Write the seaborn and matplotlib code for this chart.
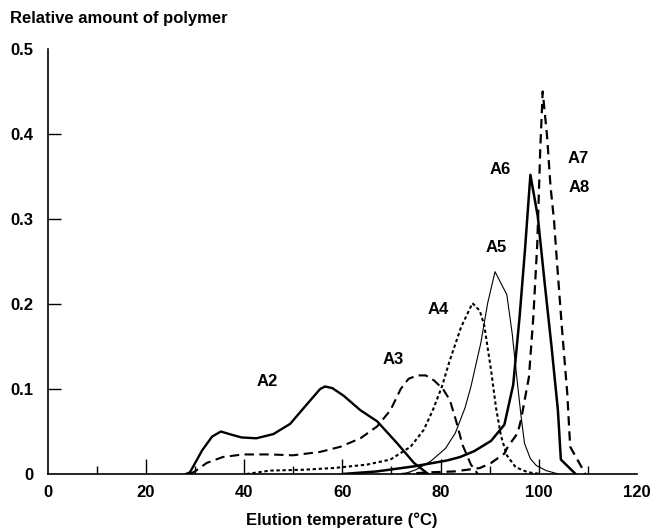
import matplotlib
matplotlib.use("Agg")
import matplotlib.pyplot as plt
import seaborn as sns
import pandas as pd

# Elution profiles (temperature in °C, relative amount of polymer)
a2_t = [28.2, 29.0, 31.5, 33.5, 35.3, 37.0, 39.5, 42.5, 46.0, 49.4, 52.8, 55.5, 56.5, 58.0,
        60.3, 63.7, 67.1, 71.2, 74.6, 77.5]
a2_y = [0.0, 0.002, 0.028, 0.044, 0.050, 0.047, 0.043, 0.042, 0.047, 0.059, 0.082, 0.100, 0.103,
        0.101, 0.092, 0.075, 0.062, 0.036, 0.013, 0.0]

a3_t = [29.0, 30.0, 32.4, 35.7, 39.8, 45.3, 50.0, 55.5, 59.6, 63.7, 67.1, 69.8, 71.9, 73.5,
        75.3, 77.0, 78.7, 80.5, 81.9, 83.1, 84.5, 86.2, 87.6]
a3_y = [0.0, 0.003, 0.013, 0.020, 0.023, 0.023, 0.022, 0.026, 0.032, 0.042, 0.056, 0.075, 0.100,
        0.112, 0.116, 0.116, 0.110, 0.100, 0.087, 0.064, 0.034, 0.011, 0.0]

a4_t = [40.5, 45.3, 52.0, 58.2, 65.0, 69.8, 73.9, 76.6, 78.5, 80.3, 81.8, 84.2, 86.5, 88.0,
        88.9, 90.3, 91.3, 92.3, 93.5, 95.3, 97.8, 100.5]
a4_y = [0.0, 0.004, 0.005, 0.007, 0.011, 0.017, 0.032, 0.052, 0.076, 0.103, 0.132, 0.173, 0.201,
        0.192, 0.175, 0.122, 0.078, 0.045, 0.022, 0.008, 0.002, 0.0]

a5_t = [72.5, 75.0, 78.0, 81.0, 83.0, 85.0, 86.2, 88.2, 89.6, 91.1, 93.5, 94.6, 95.6, 96.4,
        97.1, 98.3, 99.5, 101.5, 104.0]
a5_y = [0.0, 0.005, 0.015, 0.030, 0.048, 0.078, 0.103, 0.154, 0.201, 0.238, 0.211, 0.165, 0.110,
        0.068, 0.036, 0.018, 0.010, 0.004, 0.0]

a6_t = [60.0, 67.0, 74.6, 81.4, 84.0, 86.9, 90.3, 93.0, 94.8, 96.1, 97.2, 98.3, 99.8, 101.2,
        102.6, 103.9, 104.5, 107.5]
a6_y = [0.0, 0.003, 0.009, 0.016, 0.020, 0.027, 0.039, 0.058, 0.105, 0.185, 0.264, 0.352, 0.303,
        0.225, 0.150, 0.075, 0.017, 0.0]

a7_t = [72.0, 78.0, 82.8, 88.0, 90.3, 93.0, 93.7, 95.7, 96.4, 98.0, 98.9, 99.7, 100.3, 100.8,
        101.7, 102.4, 103.1, 103.7, 104.7, 105.8, 106.4, 109.5]
a7_y = [0.0, 0.002, 0.003, 0.007, 0.013, 0.024, 0.032, 0.048, 0.064, 0.114, 0.185, 0.271, 0.381,
        0.450, 0.397, 0.338, 0.299, 0.250, 0.173, 0.095, 0.032, 0.0]

# Curve labels and their positions (temperature, amount)
label_text = ["A2", "A3", "A4", "A5", "A6", "A7", "A8"]
label_t = [44.7, 70.3, 79.5, 91.4, 92.1, 108.0, 108.2]
label_y = [0.109, 0.135, 0.193, 0.266, 0.358, 0.371, 0.337]

x_ticks = [0, 20, 40, 60, 80, 100, 120]
x_minor = [10, 30, 50, 70, 90, 110]
y_ticks = [0, 0.1, 0.2, 0.3, 0.4, 0.5]
y_tick_labels = ["0", "0.1", "0.2", "0.3", "0.4", "0.5"]

sns.set_theme(style="white")
plt.rcParams["font.family"] = ["Liberation Sans", "DejaVu Sans"]
FS = 12
FW = "bold"

fig = plt.figure(figsize=(6.54, 5.31), dpi=100)
ax = fig.add_axes([47.5 / 654, 57 / 531, 589.5 / 654, 425 / 531])

curves = [
    (a2_t, a2_y, 1.7, "-"),
    (a3_t, a3_y, 1.5, (0, (4.5, 2.6))),
    (a4_t, a4_y, 1.5, (0, (1.6, 1.3))),
    (a5_t, a5_y, 0.8, "-"),
    (a6_t, a6_y, 1.8, "-"),
    (a7_t, a7_y, 1.6, (0, (4.2, 2.6))),
]
for t, y, lw, ls in curves:
    df = pd.DataFrame({"t": t, "y": y})
    sns.lineplot(data=df, x="t", y="y", ax=ax, color="black", linewidth=lw,
                 linestyle=ls, sort=False, estimator=None)

for txt, t, y in zip(label_text, label_t, label_y):
    ax.text(t, y, txt, fontsize=FS, fontweight=FW, ha="center", va="center", color="black")

ax.set_xlim(0, 120)
ax.set_ylim(0, 0.5)
ax.set_xticks(x_ticks)
ax.set_xticks(x_minor, minor=True)
ax.set_xticklabels([str(v) for v in x_ticks], fontsize=FS, fontweight=FW)
ax.set_yticks(y_ticks)
ax.set_yticklabels(y_tick_labels, fontsize=FS, fontweight=FW)

ax.tick_params(axis="x", which="major", direction="in", length=11, width=1.0,
               color="black", pad=8, labelcolor="black", bottom=True)
ax.tick_params(axis="x", which="minor", direction="in", length=6, width=1.0,
               color="black", bottom=True)
ax.tick_params(axis="y", which="major", direction="in", length=9, width=1.0,
               color="black", pad=10, labelcolor="black", left=True)

# no tick marks at the axis ends
for tk in (ax.xaxis.get_major_ticks()[0], ax.xaxis.get_major_ticks()[-1],
           ax.yaxis.get_major_ticks()[0], ax.yaxis.get_major_ticks()[-1]):
    tk.tick1line.set_visible(False)

for side in ("top", "right"):
    ax.spines[side].set_visible(False)
for side in ("left", "bottom"):
    ax.spines[side].set_color("black")
    ax.spines[side].set_linewidth(1.2)

ax.set_xlabel("")
ax.set_ylabel("")
fig.text(342 / 654, 1 - 520 / 531, "Elution temperature (°C)", fontsize=FS, fontweight=FW,
         ha="center", va="center", color="black")
fig.text(10 / 654, 1 - 18 / 531, "Relative amount of polymer", fontsize=FS, fontweight=FW,
         ha="left", va="center", color="black")

fig.savefig("out.png", dpi=100, facecolor="white")
